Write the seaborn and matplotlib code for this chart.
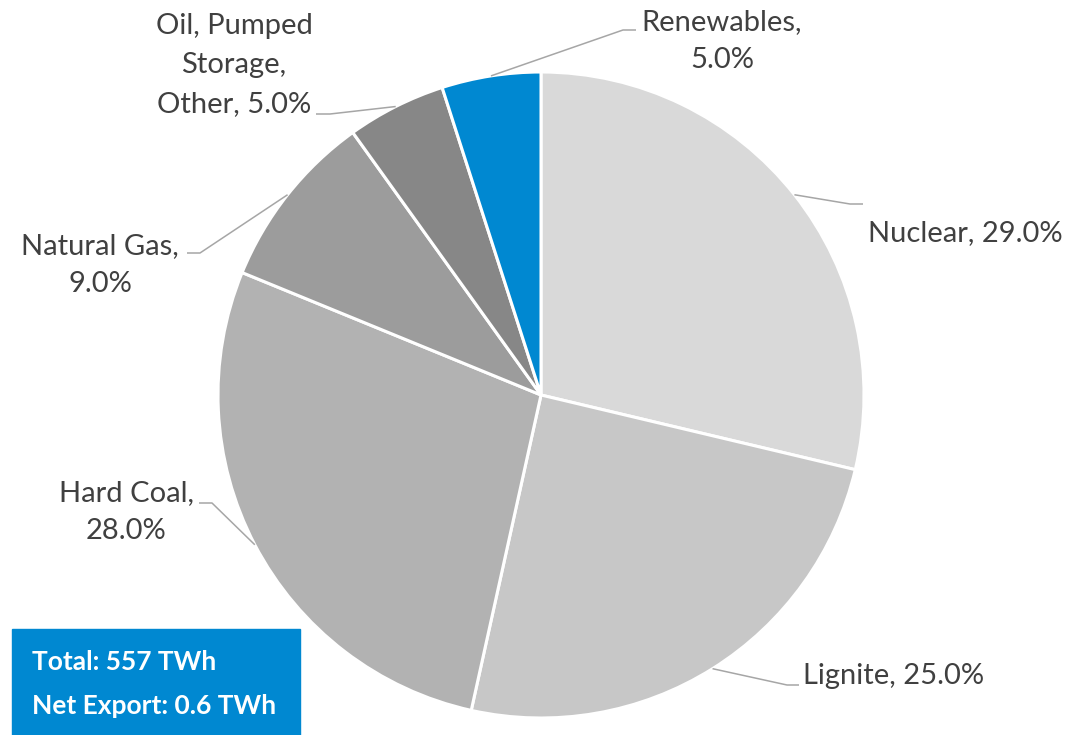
import numpy as np
import seaborn as sns
import matplotlib.pyplot as plt
from matplotlib.patches import Rectangle

# dados do gráfico
fontes = ["Nuclear", "Lignite", "Hard Coal", "Natural Gas", "Oil, Pumped\nStorage,\nOther", "Renewables"]
percentuais = [29.0, 25.0, 28.0, 9.0, 5.0, 5.0]
cores = ["#D9D9D9", "#C7C7C7", "#B2B2B2", "#9C9C9C", "#878787", "#0088D1"]
total_txt = "Total: 557 TWh"
export_txt = "Net Export: 0.6 TWh"

sns.set_theme(style="white")
plt.rcParams['font.family'] = ['Lato', 'DejaVu Sans']

W, H = 1068, 735
CX, CY, R = 541, 395, 323  # centro e raio da pizza em pixels

fig = plt.figure(figsize=(W / 100, H / 100), dpi=100)
ax = fig.add_axes([0, 0, 1, 1])
ax.axis('off')


def px(x, y):
    # pixel da imagem -> coordenadas da pizza
    return (x - CX) / R, (CY - y) / R


wedges, _ = ax.pie(percentuais, colors=cores, startangle=90, counterclock=False,
                   radius=1, center=(0, 0), frame=False,
                   wedgeprops=dict(edgecolor="white", linewidth=2.2))
ax.set_xlim(-CX / R, (W - CX) / R)
ax.set_ylim(-(H - CY) / R, CY / R)
ax.set_aspect('equal')

# posição dos rótulos (layout): cotovelo, fim da linha, texto, alinhamento
layout = [
    ((850, 204), (863, 204), (868, 233), 'left'),
    ((787, 685), (799, 685), (803, 676), 'left'),
    ((212, 503), (199, 503), (126, 512), 'center'),
    ((200, 253), (187, 253), (100, 265), 'center'),
    ((330, 114), (316, 114), (234, 65), 'center'),
    ((623, 30), (636, 30), (722, 41), 'center'),
]

for w, nome, pct, (cot, fim, txt, ha) in zip(wedges, fontes, percentuais, layout):
    ang = np.deg2rad((w.theta1 + w.theta2) / 2)
    x0, y0 = np.cos(ang), np.sin(ang)
    xc, yc = px(*cot)
    xf, yf = px(*fim)
    ax.plot([x0, xc, xf], [y0, yc, yf], color="#A6A6A6", lw=1.1, solid_capstyle='butt')
    if nome in ("Nuclear", "Lignite") or nome.startswith("Oil"):
        rotulo = f"{nome}, {pct:.1f}%"
    else:
        rotulo = f"{nome},\n{pct:.1f}%"
    xt, yt = px(*txt)
    ax.text(xt, yt, rotulo, ha=ha, va='center', fontsize=21, color="#404040",
            linespacing=1.6, multialignment='center')

# caixa azul com total
x0, y0 = px(12, 735)
x1, y1 = px(300, 629)
ax.add_patch(Rectangle((x0, y0), x1 - x0, y1 - y0, color="#0088D1", zorder=3, clip_on=False))
for texto, yy in [(total_txt, 662), (export_txt, 706)]:
    xt, yt = px(32, yy)
    ax.text(xt, yt, texto, ha='left', va='center', fontsize=19, color="white",
            fontweight='bold', zorder=4)

fig.savefig("out.png", dpi=100)
